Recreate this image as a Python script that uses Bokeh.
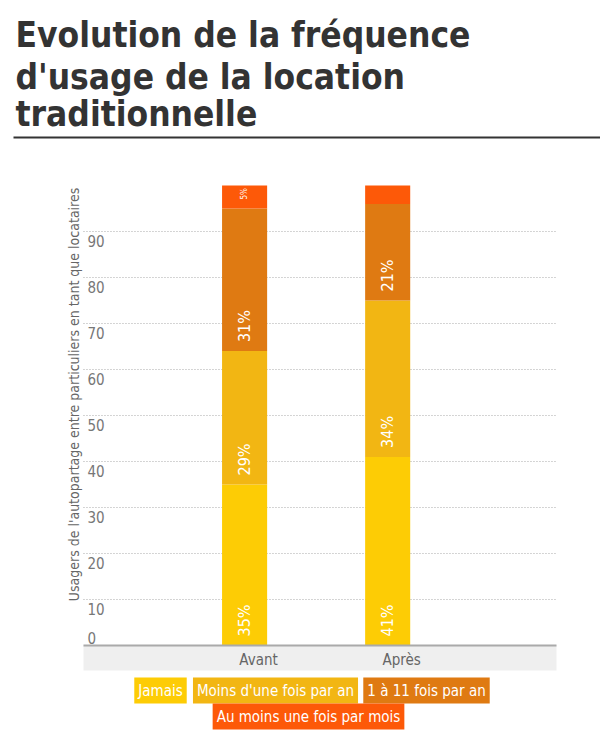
import numpy as np
from math import pi
from bokeh.plotting import figure
from bokeh.models import Range1d, Label, BoxAnnotation
from bokeh.core.properties import value
from bokeh.embed import file_html
from bokeh.resources import INLINE

title_lines = ["Evolution de la fréquence", "d'usage de la location", "traditionnelle"]
categories = ["Avant", "Après"]
series = ["Jamais", "Moins d'une fois par an", "1 à 11 fois par an", "Au moins une fois par mois"]
jamais = [35, 41]
moins_une_fois = [29, 34]
un_a_onze = [31, 21]
au_moins_mois = [5, 4]
colors = ["#fdcc05", "#f2b613", "#df7a12", "#fd5908"]
y_ticks = [0, 10, 20, 30, 40, 50, 60, 70, 80, 90]
y_title = "Usagers de l'autopartage entre particuliers en tant que locataires"

FONT = "DejaVu Sans Condensed"
W, H = 600, 733

# zone du graphique en pixels : x 83..556, zero a y=645, 4.6 px par point
PX, PY = 143.1, 4.6
lo, hi = -1.126, 2.18
y0_px = 645

p = figure(width=W, height=H,
           x_range=Range1d(lo - 83 / PX, hi + (W - 556) / PX),
           y_range=Range1d(-(H - y0_px) / PY, y0_px / PY),
           toolbar_location=None, output_backend="svg", min_border=0,
           x_axis_location=None, y_axis_location=None)
p.outline_line_color = None
p.grid.visible = False

x = np.arange(len(categories))
stack = np.vstack([jamais, moins_une_fois, un_a_onze, au_moins_mois])
tops = np.cumsum(stack, axis=0)
bottoms = tops - stack

# bande des categories + lignes de grille
p.add_layout(BoxAnnotation(left=lo, right=hi, top=0, bottom=-25 / PY,
                           fill_color="#efefef", fill_alpha=1, line_color=None, level="underlay"))
p.segment(x0=[lo] * (len(y_ticks) - 1), x1=[hi] * (len(y_ticks) - 1), y0=y_ticks[1:], y1=y_ticks[1:],
          line_color="#aaaaaa", line_dash="1 2", line_width=1)

for i in range(len(series)):
    p.vbar(x=x, bottom=bottoms[i], top=tops[i], width=0.315, fill_color=colors[i], line_color=None)

p.segment(x0=[lo], x1=[hi], y0=[0], y1=[0], line_color="#aaaaaa", line_width=2)

# etiquettes dans les barres
for i in range(len(series)):
    for j in range(len(categories)):
        v = stack[i, j]
        if v < 5:
            continue
        p.text(x=[x[j]], y=[bottoms[i, j]], text=[f"{v}%"], angle=pi / 2,
               text_align="left", text_baseline="middle", y_offset=-9,
               text_font=value(FONT), text_font_size="16px" if v >= 10 else "8px",
               text_color="white")

# graduations a l'interieur du cadre
p.text(x=[lo] * (len(y_ticks) - 1), y=y_ticks[1:], text=[str(t) for t in y_ticks[1:]],
       x_offset=4, y_offset=3, text_baseline="top", text_font=value(FONT),
       text_font_size="15px", text_color="#777777")
p.text(x=[lo], y=y_ticks[:1], text=[str(y_ticks[0])],
       x_offset=4, y_offset=-2, text_baseline="bottom", text_font=value(FONT),
       text_font_size="15px", text_color="#777777")

# categories
p.text(x=x, y=[0] * len(categories), text=categories, x_offset=14, y_offset=5,
       text_align="center", text_baseline="top", text_font=value(FONT),
       text_font_size="15px", text_color="#666666")

# titre de l'axe y
p.add_layout(Label(x=73, y=H - 394, x_units="screen", y_units="screen", text=y_title,
                   angle=pi / 2, text_align="center", text_baseline="middle",
                   text_font=FONT, text_font_size="14px", text_color="#666666"))

# titre (unites "screen" : origine en bas a gauche)
for line, yb in zip(title_lines, [34, 76, 113]):
    p.add_layout(Label(x=15, y=H - yb, x_units="screen", y_units="screen", text=line,
                       text_font=FONT, text_font_style="bold", text_font_size="35px",
                       text_color="#333333", text_baseline="alphabetic"))
p.add_layout(BoxAnnotation(left=13, right=W, top=H - 136, bottom=H - 138, left_units="screen",
                           right_units="screen", top_units="screen", bottom_units="screen",
                           fill_color="#333333", fill_alpha=1, line_color=None))

# legende
for name, c, lx, ly in zip(series, colors, [160, 275, 426, 308], [690, 690, 690, 716]):
    p.add_layout(Label(x=lx, y=H - ly, x_units="screen", y_units="screen", text=name,
                       text_align="center", text_baseline="middle", text_font=FONT,
                       text_font_size="15px", text_color="white",
                       background_fill_color=c, padding=4))

open("out.html", "w").write(file_html(p, INLINE))
